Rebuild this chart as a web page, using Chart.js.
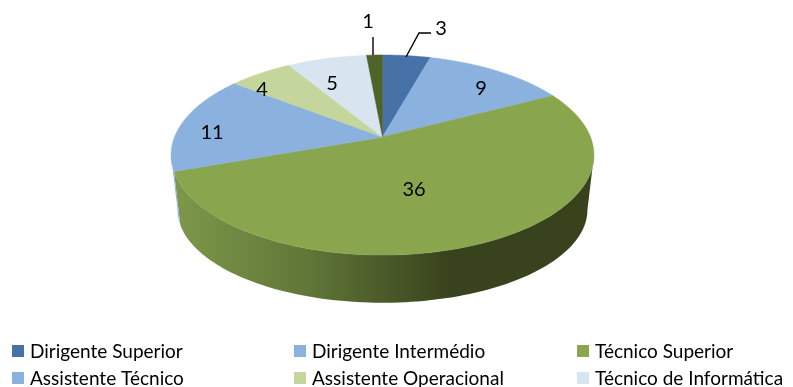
<!DOCTYPE html>
<html>
<head>
<meta charset="utf-8">
<title>Pessoal por carreira</title>
<script src="https://cdn.jsdelivr.net/npm/chart.js@4"></script>
<style>
    html, body { margin: 0; padding: 0; background: #fff; overflow: hidden; }
    canvas { display: block; }
</style>
</head>
<body>
<canvas id="myChart" width="793" height="387"></canvas>
<script>
const categories = [
    'Dirigente Superior',
    'Dirigente Intermédio',
    'Técnico Superior',
    'Assistente Técnico',
    'Assistente Operacional',
    'Técnico de Informática'
];
const values = [3, 9, 36, 11, 4, 5, 1];
const colors = ['#4672a8', '#8bb1de', '#89a54e', '#8bb1de', '#c4d69b', '#d9e4f1', '#4f6228'];

// tilted disc: circle (u, v) goes through a perspective divide
const topFace = { x: 382.5, y: 137, rx: 208, ry: 96.8, k: 0.18 };
const bottomFace = { x: 382.5, y: 193, rx: 201.6, ry: 90, k: 0.18 };

// the outer wall only faces the viewer between these two angles
const wallFrom = Math.asin(topFace.k);
const wallTo = Math.PI - wallFrom;

const project = (face, u, v) => {
    const d = 1 - face.k * v;
    return [face.x + face.rx * u / d, face.y + face.ry * v / d];
};

const edgePoints = (face, start, end) => {
    const steps = Math.max(2, Math.ceil((end - start) * 40));
    const pts = [];
    for (let i = 0; i <= steps; i++) {
        const a = start + (end - start) * i / steps;
        pts.push(project(face, Math.cos(a), Math.sin(a)));
    }
    return pts;
};

const tracePoly = (ctx, pts) => {
    ctx.beginPath();
    pts.forEach((p, i) => i ? ctx.lineTo(p[0], p[1]) : ctx.moveTo(p[0], p[1]));
    ctx.closePath();
};

const sideFill = (ctx, index) => {
    if (index === 2) {
        const g = ctx.createLinearGradient(175, 0, 450, 0);
        g.addColorStop(0, '#7d984a');
        g.addColorStop(0.5, '#5f7537');
        g.addColorStop(1, '#38421c');
        return g;
    }
    return colors[index];
};

const pie3dPlugin = {
    id: 'pie3d',
    beforeDatasetsDraw: (chart) => {
        const { ctx } = chart;
        const arcs = chart.getDatasetMeta(0).data;
        ctx.save();
        arcs.forEach((arc, i) => {
            const start = Math.max(arc.startAngle, wallFrom);
            const end = Math.min(arc.endAngle, wallTo);
            if (end <= start) {
                return;
            }
            const top = edgePoints(topFace, start, end);
            const bottom = edgePoints(bottomFace, start, end);
            tracePoly(ctx, top.concat(bottom.reverse()));
            ctx.fillStyle = sideFill(ctx, i);
            ctx.fill();
        });
        arcs.forEach((arc, i) => {
            const top = edgePoints(topFace, arc.startAngle, arc.endAngle);
            tracePoly(ctx, [[topFace.x, topFace.y]].concat(top));
            ctx.fillStyle = colors[i];
            ctx.strokeStyle = colors[i];
            ctx.lineWidth = 0.5;
            ctx.fill();
            ctx.stroke();
        });
        ctx.restore();
        return false;
    }
};

function tracePolyline(ctx, pts) {
    ctx.beginPath();
    pts.forEach((p, i) => i ? ctx.lineTo(p[0], p[1]) : ctx.moveTo(p[0], p[1]));
    ctx.stroke();
}

const valueLabels = {
    id: 'valueLabels',
    afterDraw: (chart, args, options) => {
        const { ctx } = chart;
        ctx.save();
        ctx.strokeStyle = '#000';
        ctx.lineWidth = 1.4;
        options.leaders.forEach((line) => {
            tracePolyline(ctx, line);
        });
        ctx.fillStyle = '#000';
        ctx.font = options.font;
        ctx.textAlign = 'center';
        ctx.textBaseline = 'middle';
        values.forEach((v, i) => {
            ctx.fillText(String(v), options.at[i][0], options.at[i][1]);
        });
        ctx.restore();
    }
};

// legend runs in three fixed columns, so the built-in one does not fit
const columnLegend = {
    id: 'columnLegend',
    afterDraw: (chart, args, options) => {
        const { ctx } = chart;
        ctx.save();
        ctx.font = options.font;
        ctx.textBaseline = 'middle';
        chart.data.labels.forEach((label, i) => {
            const x = options.columns[i % 3];
            const y = options.rows[Math.floor(i / 3)];
            ctx.fillStyle = colors[i];
            ctx.fillRect(x, y - 6, 12, 12);
            ctx.fillStyle = '#000';
            ctx.fillText(label, x + 18, y + 1);
        });
        ctx.restore();
    }
};

new Chart(document.getElementById('myChart'), {
    type: 'pie',
    data: {
        labels: categories,
        datasets: [{ data: values, backgroundColor: colors }]
    },
    options: {
        responsive: false,
        animation: false,
        plugins: {
            legend: { display: false },
            tooltip: { enabled: false },
            valueLabels: {
                font: '20px Lato',
                at: [[441, 29], [481, 89], [414, 190], [212, 133], [262, 90], [332, 84], [368, 22]],
                leaders: [
                    [[406, 57], [419, 33], [431, 33]],
                    [[373, 37], [373, 55]]
                ]
            },
            columnLegend: {
                font: '19px Lato',
                columns: [12, 294, 577],
                rows: [351, 378]
            }
        }
    },
    plugins: [pie3dPlugin, valueLabels, columnLegend]
});
</script>
</body>
</html>
